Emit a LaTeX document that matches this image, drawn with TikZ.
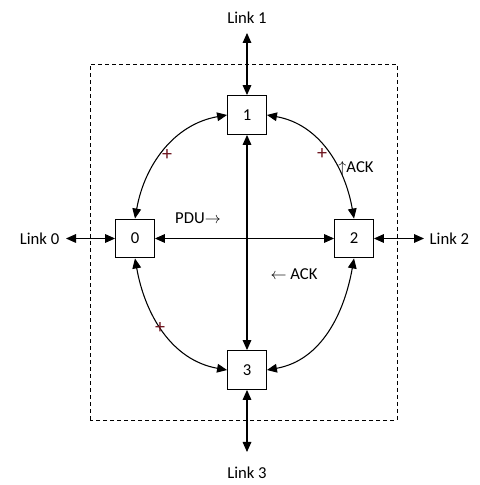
\documentclass[tikz,border=0pt]{standalone}
\usepackage{fontspec}
\setmainfont{Carlito}
\usetikzlibrary{arrows.meta}

\tikzset{
  router/.style={draw, line width=0.9pt, fill=white, minimum size=29pt, inner sep=0pt},
  linkarrow/.style={{Triangle[length=7.5pt,width=6.5pt]}-{Triangle[length=7.5pt,width=6.5pt]}, line width=0.8pt},
  cross/.style={text={rgb,255:red,110;green,20;blue,30}, inner sep=0pt, font=\fontsize{15}{15}\selectfont}
}

\begin{document}
\begin{tikzpicture}[x=0.75pt, y=0.75pt, font=\fontsize{12.5}{14}\selectfont]
  \useasboundingbox (0,0) rectangle (479,485);

  % Switch boundary
  \draw[line width=0.7pt, dash pattern=on 3pt off 2.25pt] (90,65) rectangle (397,421);

  % Ports
  \node[router] (n1) at (247,370) {1};
  \node[router] (n0) at (135,246.5) {0};
  \node[router] (n2) at (354,246.5) {2};
  \node[router] (n3) at (247,115) {3};

  % External links
  \coordinate (l1) at (247,452);
  \coordinate (l3) at (247,33);
  \coordinate (l0) at (66,246.5);
  \coordinate (l2) at (424,246.5);
  \node (t1) at (247,467) {Link 1};
  \node (t3) at (247,12) {Link 3};
  \node[anchor=east] (t0) at (64,246.5) {Link 0};
  \node[anchor=west] (t2) at (425,246.5) {Link 2};
  \draw[linkarrow] (n1) -- (l1);
  \draw[linkarrow] (n3) -- (l3);
  \draw[linkarrow] (n0) -- (l0);
  \draw[linkarrow] (n2) -- (l2);

  % Ring
  \draw[linkarrow] (n0.north) to[out=80, in=190] (n1.west);
  \draw[linkarrow] (n1.east) to[out=-10, in=100] (n2.north);
  \draw[linkarrow] (n0.south) to[out=-80, in=170] (n3.west);
  \draw[linkarrow] (n3.east) to[out=10, in=-100] (n2.south);

  % Cross connections
  \draw[linkarrow] (n1) -- (n3);
  \draw[linkarrow] (n0) -- (n2);

  % Labels
  \node (pdu) at (198,267) {PDU$\rightarrow$};
  \node (ack1) at (356,316) {$\uparrow$ACK};
  \node (ack2) at (294,211) {$\leftarrow$ ACK};
  \node[cross] (c1) at (167,330) {+};
  \node[cross] (c2) at (322,331) {+};
  \node[cross] (c3) at (160,157) {+};
\end{tikzpicture}
\end{document}
